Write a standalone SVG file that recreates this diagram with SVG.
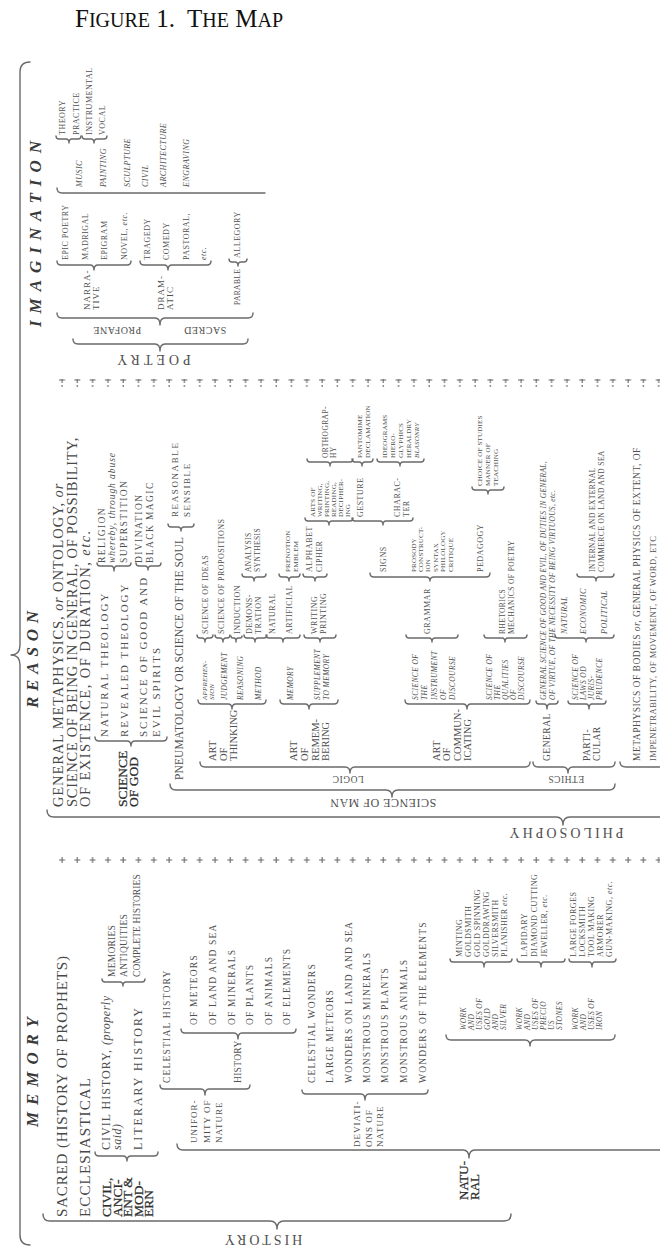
<svg xmlns="http://www.w3.org/2000/svg" width="660" height="1255" viewBox="0 0 660 1255">
<defs>
<style>
text{font-family:"Liberation Serif","Times New Roman",serif;fill:#505050}
.ttl{font-size:17px;font-style:italic;font-weight:bold;letter-spacing:8px;fill:#3a3a3a}
.big{font-size:15px;letter-spacing:1px;fill:#484848}
.bold{font-size:13.5px;fill:#2e2e2e;stroke:#2e2e2e;stroke-width:.25px}
.rm{font-size:14.5px;letter-spacing:.7px;fill:#484848}
.c12{font-size:12px;letter-spacing:1px}
.c11{font-size:10.5px}
.sc{font-size:9.5px;letter-spacing:1.2px}
.r11{font-size:11px;letter-spacing:2px}
.s95{font-size:9.5px;letter-spacing:1.4px}
.s9{font-size:9px;letter-spacing:1px}
.s8{font-size:8px;letter-spacing:.5px}
.s75{font-size:7.5px;letter-spacing:.4px}
.s7{font-size:7px;letter-spacing:.2px}
.it{font-style:italic}
.lab{text-anchor:middle}
.br{fill:none;stroke:#6a6a6a;stroke-width:1.4;stroke-linecap:round;stroke-linejoin:round}
</style>
<pattern id="plus" x="58" y="0" width="15.3" height="8" patternUnits="userSpaceOnUse">
<path d="M1,4 H7 M4,1 V7" stroke="#666" stroke-width="1.1" fill="none"/>
</pattern>
</defs>
<rect width="660" height="1255" fill="#fff"/>

<g id="title">
<text x="75" y="27" style="font-size:25px;fill:#111">F<tspan style="font-size:20px">IGURE</tspan> 1.<tspan dx="12">T</tspan><tspan style="font-size:20px">HE</tspan> M<tspan style="font-size:20px">AP</tspan></text>
</g>

<g id="separators">
<rect x="58" y="379" width="602" height="8" fill="url(#plus)"/>
<rect x="58" y="856" width="602" height="8" fill="url(#plus)"/>
</g>

<g id="connectors" class="br">
<path d="M30,62 Q20,62 20,72 L20,645 Q20,655 11,655 Q20,655 20,665 L20,1235 Q20,1245 30,1245"/>
<path d="M43,1214 Q43,1221 50,1221 L270,1221 Q277,1221 277,1229 Q277,1221 284,1221 L504,1221 Q511,1221 511,1214"/>
<path d="M95,1152 Q95,1156 99,1156 L123,1156 Q127,1156 127,1161 Q127,1156 131,1156 L154,1156 Q158,1156 158,1152"/>
<path d="M102,979 Q102,982 105,982 L120,982 Q123,982 123,986 Q123,982 126,982 L142,982 Q145,982 145,979"/>
<path d="M177,1144 Q177,1150 183,1150 L463,1150 Q469,1150 469,1158 Q469,1150 475,1150 L757,1150 Q763,1150 763,1144"/>
<path d="M160,1085 Q160,1089 164,1089 L201,1089 Q205,1089 205,1095 Q205,1089 209,1089 L246,1089 Q250,1089 250,1085"/>
<path d="M181,1029 Q181,1033 185,1033 L234,1033 Q238,1033 238,1039 Q238,1033 242,1033 L292,1033 Q296,1033 296,1029"/>
<path d="M302,1090 Q302,1094 306,1094 L361,1094 Q365,1094 365,1100 Q365,1094 369,1094 L424,1094 Q428,1094 428,1090"/>
<path d="M446,1035 Q446,1040 451,1040 L525,1040 Q530,1040 530,1046 Q530,1040 535,1040 L610,1040 Q615,1040 615,1035"/>
<path d="M450,959 Q450,962 453,962 L481,962 Q484,962 484,967 Q484,962 487,962 L509,962 Q512,962 512,959"/>
<path d="M517,959 Q517,962 520,962 L538,962 Q541,962 541,967 Q541,962 544,962 L562,962 Q565,962 565,959"/>
<path d="M569,959 Q569,962 572,962 L589,962 Q592,962 592,967 Q592,962 595,962 L613,962 Q616,962 616,959"/>

<path d="M47,810 Q47,817 54,817 L556,817 Q563,817 563,825 Q563,817 570,817 L1072,817 Q1079,817 1079,810"/>
<path d="M95,737 Q95,741 99,741 L127,741 Q131,741 131,746 Q131,741 135,741 L163,741 Q167,741 167,737"/>
<path d="M97,563 Q97,566 100,566 L111,566 Q114,566 114,571 Q114,566 117,566 L128,566 Q131,566 131,563"/>
<path d="M136,563 Q136,566 139,566 L145,566 Q148,566 148,570 Q148,566 151,566 L158,566 Q161,566 161,563"/>
<path d="M168,524 Q168,527 171,527 L178,527 Q181,527 181,531 Q181,527 184,527 L191,527 Q194,527 194,524"/>
<path d="M170,784 Q170,790 176,790 L386,790 Q392,790 392,797 Q392,790 398,790 L609,790 Q615,790 615,784"/>
<path d="M200,762 Q200,767 205,767 L345,767 Q350,767 350,773 Q350,767 355,767 L525,767 Q530,767 530,762"/>
<path d="M198,700 Q198,704 202,704 L228,704 Q232,704 232,709 Q232,704 236,704 L262,704 Q266,704 266,700"/>
<path d="M197,635 Q197,638 200,638 L202,638 Q205,638 205,642 Q205,638 208,638 L210,638 Q213,638 213,635"/>
<path d="M215,635 Q215,638 218,638 L220,638 Q223,638 223,642 Q223,638 226,638 L227,638 Q230,638 230,635"/>
<path d="M231,636 Q231,638 233,638 L234,638 Q236,638 236,642 Q236,638 238,638 L240,638 Q242,638 242,636"/>
<path d="M244,635 Q244,638 247,638 L252,638 Q255,638 255,642 Q255,638 258,638 L264,638 Q267,638 267,635"/>
<path d="M242,574 Q242,577 245,577 L251,577 Q254,577 254,581 Q254,577 257,577 L263,577 Q266,577 266,574"/>
<path d="M280,700 Q280,704 284,704 L305,704 Q309,704 309,709 Q309,704 313,704 L334,704 Q338,704 338,700"/>
<path d="M266,635 Q266,638 269,638 L280,638 Q283,638 283,642 Q283,638 286,638 L297,638 Q300,638 300,635"/>
<path d="M279,574 Q279,577 282,577 L286,577 Q289,577 289,581 Q289,577 292,577 L297,577 Q300,577 300,574"/>
<path d="M304,635 Q304,638 307,638 L317,638 Q320,638 320,642 Q320,638 323,638 L333,638 Q336,638 336,635"/>
<path d="M303,574 Q303,577 306,577 L312,577 Q315,577 315,581 Q315,577 318,577 L324,577 Q327,577 327,574"/>
<path d="M305,518 Q305,521 308,521 L326,521 Q329,521 329,525 Q329,521 332,521 L350,521 Q353,521 353,518"/>
<path d="M307,459 Q307,462 310,462 L327,462 Q330,462 330,466 Q330,462 333,462 L350,462 Q353,462 353,459"/>
<path d="M405,700 Q405,704 409,704 L463,704 Q467,704 467,709 Q467,704 471,704 L526,704 Q530,704 530,700"/>
<path d="M406,635 Q406,638 409,638 L429,638 Q432,638 432,642 Q432,638 435,638 L455,638 Q458,638 458,635"/>
<path d="M370,573 Q370,577 374,577 L426,577 Q430,577 430,581 Q430,577 434,577 L486,577 Q490,577 490,573"/>
<path d="M352,518 Q352,521 355,521 L380,521 Q383,521 383,525 Q383,521 386,521 L410,521 Q413,521 413,518"/>
<path d="M352,459 Q352,462 355,462 L359,462 Q362,462 362,466 Q362,462 365,462 L370,462 Q373,462 373,459"/>
<path d="M377,459 Q377,462 380,462 L397,462 Q400,462 400,466 Q400,462 403,462 L421,462 Q424,462 424,459"/>
<path d="M472,487 Q472,490 475,490 L485,490 Q488,490 488,494 Q488,490 491,490 L501,490 Q504,490 504,487"/>
<path d="M484,635 Q484,638 487,638 L502,638 Q505,638 505,642 Q505,638 508,638 L524,638 Q527,638 527,635"/>
<path d="M533,762 Q533,767 538,767 L563,767 Q568,767 568,773 Q568,767 573,767 L610,767 Q615,767 615,762"/>
<path d="M536,701 Q536,704 539,704 L544,704 Q547,704 547,709 Q547,704 550,704 L555,704 Q558,704 558,701"/>
<path d="M568,701 Q568,704 571,704 L586,704 Q589,704 589,709 Q589,704 592,704 L603,704 Q606,704 606,701"/>
<path d="M555,635 Q555,638 558,638 L583,638 Q586,638 586,642 Q586,638 589,638 L611,638 Q614,638 614,635"/>
<path d="M577,574 Q577,577 580,577 L593,577 Q596,577 596,581 Q596,577 599,577 L611,577 Q614,577 614,574"/>
<path d="M620,762 Q620,767 626,767 L760,767"/>

<path d="M73,339 Q73,344 78,344 L155,344 Q160,344 160,351 Q160,344 165,344 L243,344 Q248,344 248,339"/>
<path d="M57,313 Q57,318 62,318 L155,318 Q160,318 160,325 Q160,318 165,318 L248,318 Q253,318 253,313"/>
<path d="M57,261 Q57,265 61,265 L90,265 Q94,265 94,270 Q94,265 98,265 L127,265 Q131,265 131,261"/>
<path d="M140,261 Q140,265 144,265 L164,265 Q168,265 168,270 Q168,265 172,265 L207,265 Q211,265 211,261"/>
<path d="M229,259 Q229,262 232,262 L235,262 Q238,262 238,266 Q238,262 241,262 L244,262 Q247,262 247,259"/>
<path d="M56,136 Q56,139 59,139 L66,139 Q69,139 69,143 Q69,139 72,139 L78,139 Q81,139 81,136"/>
<path d="M82,136 Q82,139 85,139 L91,139 Q94,139 94,143 Q94,139 97,139 L104,139 Q107,139 107,136"/>
<path d="M57,188 Q57,193 62,193 L265,193"/>
</g>

<g id="branch-labels">
<g id="n-history"><text class="lab" transform="translate(262,1235) rotate(180)" style="font-size:14px;letter-spacing:3px">HISTORY</text></g>
<g id="n-philosophy"><text class="lab" transform="translate(565,828) rotate(180)" style="font-size:14px;letter-spacing:3px">PHILOSOPHY</text></g>
<g id="n-scienceofman"><text class="lab" transform="translate(383,799) rotate(180)" style="font-size:12px;letter-spacing:.5px">SCIENCE OF MAN</text></g>
<g id="n-logic"><text class="lab" transform="translate(348,776) rotate(180)" style="font-size:9.5px;letter-spacing:.5px">LOGIC</text></g>
<g id="n-ethics"><text class="lab" transform="translate(566,776) rotate(180)" style="font-size:9.5px;letter-spacing:.5px">ETHICS</text></g>
<g id="n-poetry"><text class="lab" transform="translate(152,355) rotate(180)" style="font-size:14px;letter-spacing:4px">POETRY</text></g>
<g id="n-profane"><text class="lab" transform="translate(117,327) rotate(180)" style="font-size:10px;letter-spacing:.5px">PROFANE</text></g>
<g id="n-sacred2"><text class="lab" transform="translate(205,327) rotate(180)" style="font-size:10px;letter-spacing:.5px">SACRED</text></g>
</g>

<g id="nodes" transform="translate(0,1255) rotate(-90)">
<g id="n-memory"><text class="ttl" x="128" y="38" textLength="118">MEMORY</text></g>
<g id="n-sacred"><text class="big" x="38" y="67" textLength="262">SACRED (HISTORY OF PROPHETS)</text></g>
<g id="n-eccl"><text class="big" x="38" y="90" textLength="140">ECCLESIASTICAL</text></g>
<g id="n-civil"><text class="bold" x="38" y="111">CIVIL,<tspan x="38" y="121.5">ANCI-</tspan><tspan x="38" y="132">ENT &amp;</tspan><tspan x="38" y="142.5">MOD-</tspan><tspan x="38" y="153">ERN</tspan></text></g>
<g id="n-civilhistory"><text class="c12" x="105" y="110">CIVIL HISTORY, <tspan class="it" style="letter-spacing:.5px">(properly</tspan><tspan class="it" x="105" y="121" style="letter-spacing:.5px">said)</tspan></text></g>
<g id="n-literary"><text class="c12" x="105" y="142" textLength="143">LITERARY HISTORY</text></g>
<g id="n-memories"><text class="sc" x="278" y="115" textLength="53">MEMORIES</text></g>
<g id="n-antiquities"><text class="sc" x="278" y="127" textLength="64">ANTIQUITIES</text></g>
<g id="n-complete"><text class="sc" x="278" y="140" textLength="104">COMPLETE HISTORIES</text></g>
<g id="n-natural"><text class="bold" x="55" y="468" style="font-size:13px">NATU-<tspan x="55" y="479">RAL</tspan></text></g>
<g id="n-uniformity"><text class="s9" x="112" y="197">UNIFOR-<tspan x="112" y="209.5">MITY OF</tspan><tspan x="112" y="222">NATURE</tspan></text></g>
<g id="n-celhist"><text class="sc" x="172" y="170">CELESTIAL HISTORY</text></g>
<g id="n-histsub"><text class="sc" x="172" y="241" style="letter-spacing:.3px">HISTORY</text></g>
<g id="n-meteors"><text class="sc" x="230" y="197">OF METEORS</text></g>
<g id="n-landsea"><text class="sc" x="230" y="216">OF LAND AND SEA</text></g>
<g id="n-minerals"><text class="sc" x="230" y="235">OF MINERALS</text></g>
<g id="n-plants"><text class="sc" x="230" y="253">OF PLANTS</text></g>
<g id="n-animals"><text class="sc" x="230" y="272">OF ANIMALS</text></g>
<g id="n-elements"><text class="sc" x="230" y="290">OF ELEMENTS</text></g>
<g id="n-deviations"><text class="s9" x="108" y="360">DEVIATI-<tspan x="108" y="371.5">ONS OF</tspan><tspan x="108" y="383">NATURE</tspan></text></g>
<g id="n-celwonders"><text class="sc" x="172" y="315">CELESTIAL WONDERS</text></g>
<g id="n-largemet"><text class="sc" x="172" y="333">LARGE METEORS</text></g>
<g id="n-wonderland"><text class="sc" x="172" y="352">WONDERS ON LAND AND SEA</text></g>
<g id="n-monmin"><text class="sc" x="172" y="370">MONSTROUS MINERALS</text></g>
<g id="n-monpla"><text class="sc" x="172" y="388">MONSTROUS PLANTS</text></g>
<g id="n-monani"><text class="sc" x="172" y="407">MONSTROUS ANIMALS</text></g>
<g id="n-wonderel"><text class="sc" x="172" y="426">WONDERS OF THE ELEMENTS</text></g>
<g id="n-gold"><text class="s75 it" x="225" y="466">WORK<tspan x="225" y="474">AND</tspan><tspan x="225" y="482">USES OF</tspan><tspan x="225" y="490">GOLD</tspan><tspan x="225" y="498">AND</tspan><tspan x="225" y="506">SILVER</tspan></text></g>
<g id="n-minting"><text class="s8" x="298" y="462">MINTING</text></g>
<g id="n-goldsmith"><text class="s8" x="298" y="471">GOLDSMITH</text></g>
<g id="n-goldspin"><text class="s8" x="298" y="480">GOLD SPINNING</text></g>
<g id="n-golddraw"><text class="s8" x="298" y="489">GOLDDRAWING</text></g>
<g id="n-silversmith"><text class="s8" x="298" y="498">SILVERSMITH</text></g>
<g id="n-planisher"><text class="s8" x="298" y="507">PLANISHER <tspan class="it">etc.</tspan></text></g>
<g id="n-stones"><text class="s75 it" x="225" y="522">WORK<tspan x="225" y="530">AND</tspan><tspan x="225" y="538">USES OF</tspan><tspan x="225" y="546">PRECIO</tspan><tspan x="225" y="554">US</tspan><tspan x="225" y="562">STONES</tspan></text></g>
<g id="n-lapidary"><text class="s8" x="298" y="527">LAPIDARY</text></g>
<g id="n-diamond"><text class="s8" x="298" y="537">DIAMOND CUTTING</text></g>
<g id="n-jeweller"><text class="s8" x="298" y="547">JEWELLER, <tspan class="it">etc.</tspan></text></g>
<g id="n-iron"><text class="s75 it" x="225" y="578">WORK<tspan x="225" y="586">AND</tspan><tspan x="225" y="594">USES OF</tspan><tspan x="225" y="602">IRON</tspan></text></g>
<g id="n-forges"><text class="s8" x="298" y="576">LARGE FORGES</text></g>
<g id="n-locksmith"><text class="s8" x="298" y="585">LOCKSMITH</text></g>
<g id="n-toolmaking"><text class="s8" x="298" y="594">TOOL MAKING</text></g>
<g id="n-armorer"><text class="s8" x="298" y="603">ARMORER</text></g>
<g id="n-gunmaking"><text class="s8" x="298" y="612">GUN-MAKING, <tspan class="it">etc.</tspan></text></g>

<g id="n-reason"><text class="ttl" x="547" y="38" textLength="105">REASON</text></g>
<g id="n-genmeta">
<text class="rm" x="448" y="63" textLength="324">GENERAL METAPHYSICS, <tspan class="it">or</tspan> ONTOLOGY, <tspan class="it">or</tspan></text>
<text class="rm" x="448" y="77" textLength="370">SCIENCE OF BEING IN GENERAL, OF POSSIBILITY,</text>
<text class="rm" x="448" y="90" textLength="277">OF EXISTENCE, OF DURATION, <tspan class="it">etc.</tspan></text>
</g>
<g id="n-scigod"><text class="bold" x="448" y="127">SCIENCE<tspan x="448" y="138">OF GOD</tspan></text></g>
<g id="n-nattheo"><text class="r11" x="518" y="108">NATURAL THEOLOGY</text></g>
<g id="n-revtheo"><text class="r11" x="518" y="128">REVEALED THEOLOGY</text></g>
<g id="n-goodevil"><text class="r11" x="518" y="147">SCIENCE OF GOOD AND<tspan x="518" y="160">EVIL SPIRITS</tspan></text></g>
<g id="n-religion"><text class="s95" x="692" y="105">RELIGION</text></g>
<g id="n-whereby"><text class="it" x="692" y="115" style="font-size:9.5px" textLength="110">whereby, through abuse</text></g>
<g id="n-superstition"><text class="s95" x="692" y="127">SUPERSTITION</text></g>
<g id="n-divination"><text class="s95" x="692" y="142">DIVINATION</text></g>
<g id="n-blackmagic"><text class="s95" x="692" y="153">BLACK MAGIC</text></g>
<g id="n-pneuma"><text x="475" y="183" style="font-size:11.5px" textLength="243">PNEUMATOLOGY OR SCIENCE OF THE SOUL</text></g>
<g id="n-reasonable"><text class="s9" x="738" y="178" style="letter-spacing:1.6px">REASONABLE</text></g>
<g id="n-sensible"><text class="s9" x="738" y="190" style="letter-spacing:1.6px">SENSIBLE</text></g>

<g id="n-artthink"><text class="c11" x="494" y="216">ART<tspan x="494" y="226.5">OF</tspan><tspan x="494" y="237">THINKING</tspan></text></g>
<g id="n-apprehension"><text class="s7 it" x="555" y="207">APPREHEN-<tspan x="555" y="214">SION</tspan></text></g>
<g id="n-judgement"><text class="s75 it" x="555" y="227">JUDGEMENT</text></g>
<g id="n-reasoning"><text class="s75 it" x="555" y="243">REASONING</text></g>
<g id="n-method"><text class="s75 it" x="555" y="261">METHOD</text></g>
<g id="n-ideas"><text class="s8" x="621" y="208">SCIENCE OF IDEAS</text></g>
<g id="n-propositions"><text class="s8" x="621" y="224">SCIENCE OF PROPOSITIONS</text></g>
<g id="n-induction"><text class="s8" x="621" y="240">INDUCTION</text></g>
<g id="n-demonstration"><text class="s8" x="621" y="252">DEMONS-<tspan x="621" y="261">TRATION</tspan></text></g>
<g id="n-analysis"><text class="s75" x="683" y="251">ANALYSIS</text></g>
<g id="n-synthesis"><text class="s75" x="683" y="259.5">SYNTHESIS</text></g>

<g id="n-artremember"><text class="c11" x="494" y="297">ART<tspan x="494" y="307.5">OF</tspan><tspan x="494" y="318.5">REMEM-</tspan><tspan x="494" y="329">BERING</tspan></text></g>
<g id="n-memory2"><text class="s75 it" x="555" y="293">MEMORY</text></g>
<g id="n-supplement"><text class="s75 it" x="555" y="320">SUPPLEMENT<tspan x="555" y="329">TO MEMORY</tspan></text></g>
<g id="n-natural2"><text class="s8" x="621" y="275">NATURAL</text></g>
<g id="n-artificial"><text class="s8" x="621" y="292">ARTIFICIAL</text></g>
<g id="n-prenotion"><text class="s7" x="683" y="290">PRENOTION</text></g>
<g id="n-emblem"><text class="s7" x="683" y="297.5">EMBLEM</text></g>
<g id="n-writing"><text class="s8" x="621" y="317">WRITING<tspan x="621" y="326">PRINTING</tspan></text></g>
<g id="n-alphabet"><text class="s8" x="683" y="312">ALPHABET</text></g>
<g id="n-cipher"><text class="s8" x="683" y="322">CIPHER</text></g>
<g id="n-arts"><text class="s7" x="738" y="315">ARTS OF<tspan x="738" y="322">WRITING,</tspan><tspan x="738" y="329">PRINTING,</tspan><tspan x="738" y="336">READING,</tspan><tspan x="738" y="343">DECIPHER-</tspan><tspan x="738" y="350">ING</tspan></text></g>
<g id="n-ortho"><text class="s75" x="797" y="328">ORTHOGRAP-<tspan x="797" y="335.5">HY</tspan></text></g>

<g id="n-artcomm"><text class="c11" x="494" y="440">ART<tspan x="494" y="450">OF</tspan><tspan x="494" y="460.5">COMMUN-</tspan><tspan x="494" y="471">ICATING</tspan></text></g>
<g id="n-instrument"><text class="s75 it" x="555" y="418">SCIENCE OF<tspan x="555" y="427">THE</tspan><tspan x="555" y="436.5">INSTRUMENT</tspan><tspan x="555" y="446">OF</tspan><tspan x="555" y="455">DISCOURSE</tspan></text></g>
<g id="n-grammar"><text class="s8" x="621" y="430">GRAMMAR</text></g>
<g id="n-signs"><text class="s8" x="683" y="386">SIGNS</text></g>
<g id="n-prosody"><text class="s7" x="683" y="416">PROSODY</text></g>
<g id="n-construction"><text class="s7" x="683" y="423">CONSTRUCT-<tspan x="683" y="430">ION</tspan></text></g>
<g id="n-syntax"><text class="s7" x="683" y="437.5">SYNTAX</text></g>
<g id="n-philology"><text class="s7" x="683" y="445">PHILOLOGY</text></g>
<g id="n-critique"><text class="s7" x="683" y="452.5">CRITIQUE</text></g>
<g id="n-pedagogy"><text class="s8" x="683" y="483">PEDAGOGY</text></g>
<g id="n-gesture"><text class="s8" x="738" y="363">GESTURE</text></g>
<g id="n-character"><text class="s8" x="738" y="400">CHARAC-<tspan x="738" y="409">TER</tspan></text></g>
<g id="n-pantomime"><text class="s7" x="797" y="362">PANTOMIME</text></g>
<g id="n-declamation"><text class="s7" x="797" y="370">DECLAMATION</text></g>
<g id="n-ideograms"><text class="s7" x="797" y="387">IDEOGRAMS</text></g>
<g id="n-hieroglyphics"><text class="s7" x="797" y="395">HIERO-<tspan x="797" y="403">GLYPHICS</tspan></text></g>
<g id="n-heraldry"><text class="s7" x="797" y="411">HERALDRY</text></g>
<g id="n-blasonry"><text class="s7 it" x="797" y="419">BLASONRY</text></g>
<g id="n-choice"><text class="s7" x="769" y="482">CHOICE OF STUDIES</text></g>
<g id="n-manner"><text class="s7" x="769" y="490">MANNER OF<tspan x="769" y="498">TEACHING</tspan></text></g>
<g id="n-qualities"><text class="s75 it" x="555" y="492">SCIENCE OF<tspan x="555" y="500">THE</tspan><tspan x="555" y="508">QUALITIES</tspan><tspan x="555" y="516">OF</tspan><tspan x="555" y="524">DISCOURSE</tspan></text></g>
<g id="n-rhetorics"><text class="s75" x="621" y="505">RHETORICS</text></g>
<g id="n-mechanics"><text class="s75" x="621" y="514">MECHANICS OF POETRY</text></g>

<g id="n-general"><text class="s95" x="494" y="550" style="letter-spacing:.5px">GENERAL</text></g>
<g id="n-particular"><text class="s95" x="494" y="590" style="letter-spacing:.5px">PARTI-<tspan x="494" y="600">CULAR</tspan></text></g>
<g id="n-genscience"><text class="s75 it" x="555" y="546" style="letter-spacing:.3px">GENERAL SCIENCE OF GOOD AND EVIL, OF DUTIES IN GENERAL,<tspan x="555" y="555">OF VIRTUE, OF THE NECESSITY OF BEING VIRTUOUS, etc.</tspan></text></g>
<g id="n-laws"><text class="s75 it" x="555" y="578">SCIENCE OF<tspan x="555" y="586">LAWS OD</tspan><tspan x="555" y="594">JURIS-</tspan><tspan x="555" y="602">PRUDENCE</tspan></text></g>
<g id="n-natural3"><text class="s8 it" x="621" y="567">NATURAL</text></g>
<g id="n-economic"><text class="s8 it" x="621" y="586">ECONOMIC</text></g>
<g id="n-political"><text class="s8 it" x="621" y="607">POLITICAL</text></g>
<g id="n-commerce"><text class="s75" x="683" y="595">INTERNAL AND EXTERNAL<tspan x="683" y="604">COMMERCE ON LAND AND SEA</tspan></text></g>
<g id="n-metabodies"><text class="s95" x="494" y="640" style="letter-spacing:.5px">METAPHYSICS OF BODIES <tspan class="it">or,</tspan> GENERAL PHYSICS OF EXTENT, OF</text><text x="494" y="656" style="font-size:8.5px;letter-spacing:.5px">IMPENETRABILITY, OF MOVEMENT, OF WORD, ETC</text></g>

<g id="n-imagination"><text class="ttl" x="928" y="41" textLength="194">IMAGINATION</text></g>
<g id="n-narrative"><text class="s9" x="945" y="90">NARRA-<tspan x="945" y="99">TIVE</tspan></text></g>
<g id="n-dramatic"><text class="s9" x="945" y="164">DRAM-<tspan x="945" y="173">ATIC</tspan></text></g>
<g id="n-parable"><text class="s75" x="950" y="240">PARABLE</text></g>
<g id="n-epic"><text class="s8" x="995" y="68">EPIC POETRY</text></g>
<g id="n-madrigal"><text class="s8" x="995" y="88">MADRIGAL</text></g>
<g id="n-epigram"><text class="s8" x="995" y="107">EPIGRAM</text></g>
<g id="n-novel"><text class="s8" x="995" y="127">NOVEL, <tspan class="it">etc.</tspan></text></g>
<g id="n-tragedy"><text class="s8" x="995" y="150">TRAGEDY</text></g>
<g id="n-comedy"><text class="s8" x="995" y="169">COMEDY</text></g>
<g id="n-pastoral"><text class="s8" x="995" y="189">PASTORAL,</text></g>
<g id="n-etc"><text class="s8 it" x="995" y="206">etc.</text></g>
<g id="n-allegory"><text class="s8" x="997" y="240">ALLEGORY</text></g>
<g id="n-music"><text class="s8 it" x="1068" y="82">MUSIC</text></g>
<g id="n-painting"><text class="s8 it" x="1068" y="106">PAINTING</text></g>
<g id="n-sculpture"><text class="s8 it" x="1068" y="130">SCULPTURE</text></g>
<g id="n-architecture"><text class="s8 it" x="1068" y="148">CIVIL<tspan x="1068" y="166">ARCHITECTURE</tspan></text></g>
<g id="n-engraving"><text class="s8 it" x="1068" y="189">ENGRAVING</text></g>
<g id="n-theory"><text class="s8" x="1120" y="65">THEORY</text></g>
<g id="n-practice"><text class="s8" x="1120" y="79">PRACTICE</text></g>
<g id="n-instrumental"><text class="s8" x="1120" y="92">INSTRUMENTAL</text></g>
<g id="n-vocal"><text class="s8" x="1120" y="105">VOCAL</text></g>
</g>
</svg>
